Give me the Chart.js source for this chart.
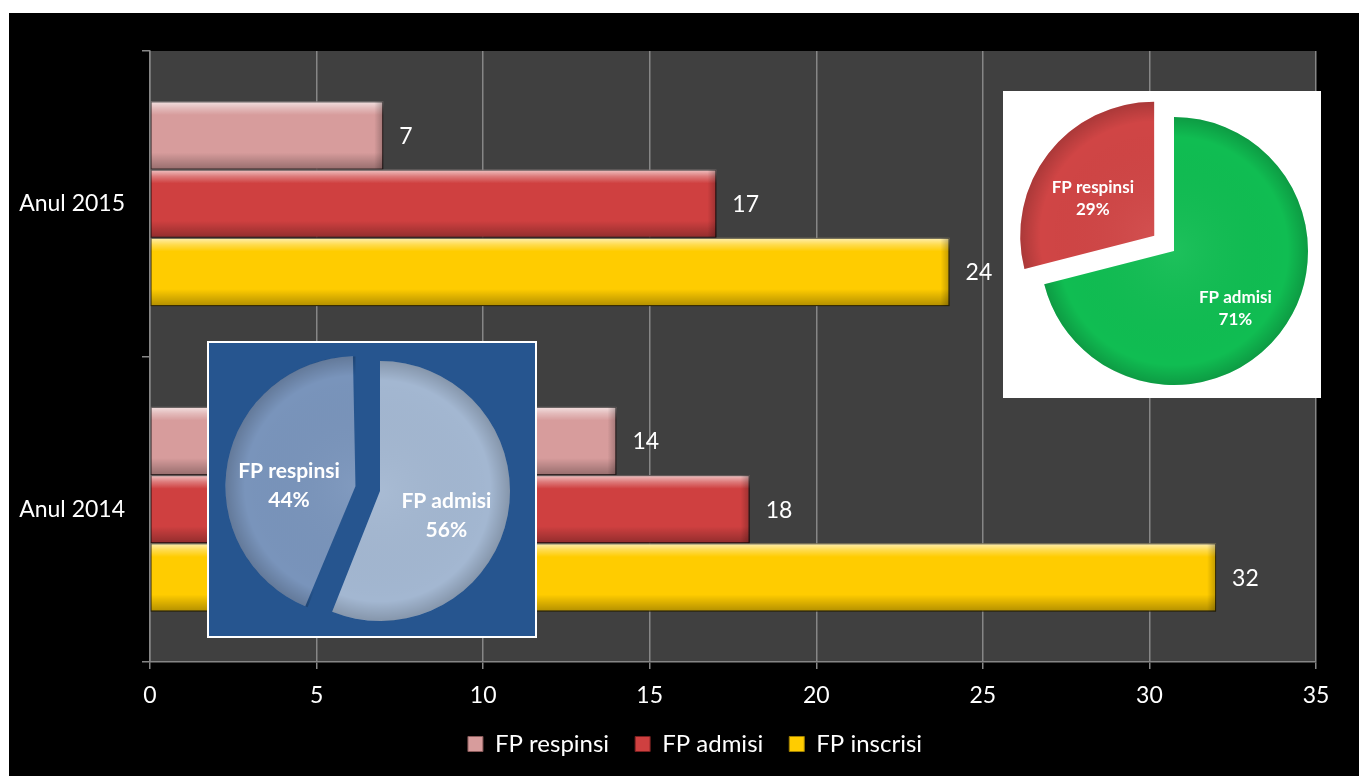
<!DOCTYPE html>
<html>
<head>
<meta charset="utf-8">
<script src="https://cdn.jsdelivr.net/npm/chart.js@4.4.1/dist/chart.umd.min.js"></script>
<style>
  html, body { margin: 0; padding: 0; background: #fff; width: 1359px; height: 776px; overflow: hidden; }
  #main { position: absolute; left: 9px; top: 13px; width: 1350px; height: 763px; background: #000; }
  #pie15 { position: absolute; left: 1003px; top: 91px; width: 318px; height: 307px; background: #fff; }
  #pie14 { position: absolute; left: 207px; top: 341px; width: 330px; height: 297px; background: #26558f; border: 2px solid #fff; box-sizing: border-box; }
</style>
</head>
<body>
<div id="main"><canvas id="barChart"></canvas></div>
<div id="pie15"><canvas id="pieChart15"></canvas></div>
<div id="pie14"><canvas id="pieChart14"></canvas></div>
<script>
// date grafic bare
const categories = ['Anul 2015', 'Anul 2014'];
const seriesNames = ['FP respinsi', 'FP admisi', 'FP inscrisi'];
const respinsi = [7, 14];
const admisi = [17, 18];
const inscrisi = [24, 32];
const xMax = 35;
const xStep = 5;

// date grafice pie
const pieLabels = ['FP admisi', 'FP respinsi'];
const pie2015 = [71, 29];
const pie2014 = [56, 44];

const mainFont = { family: 'Lato', size: 23 };
const legendFont = { family: 'Lato', size: 24 };

// fundal gri pentru zona graficului + legenda centrata ca in original
const plotBg = {
  id: 'plotBg',
  beforeDraw(chart) {
    const { ctx, chartArea: a } = chart;
    ctx.save();
    ctx.fillStyle = '#404040';
    ctx.fillRect(a.left, a.top, a.right - a.left, a.bottom - a.top);
    ctx.restore();
    const lg = chart.legend;
    if (lg) {
      const d = 686 - (lg.left + lg.right) / 2;
      lg.left += d;
      lg.right += d;
    }
  }
};

// efect 3D pe bare
const barBevel = {
  id: 'barBevel',
  afterDatasetsDraw(chart) {
    const ctx = chart.ctx;
    chart.data.datasets.forEach((ds, i) => {
      chart.getDatasetMeta(i).data.forEach(bar => {
        const { x, y, base, height } = bar.getProps(['x', 'y', 'base', 'height'], true);
        const top = y - height / 2;
        const w = x - base;
        ctx.save();
        let g = ctx.createLinearGradient(0, top, 0, top + height);
        g.addColorStop(0, 'rgba(255,255,255,0.7)');
        g.addColorStop(0.1, 'rgba(255,255,255,0.3)');
        g.addColorStop(0.2, 'rgba(255,255,255,0)');
        g.addColorStop(0.75, 'rgba(0,0,0,0)');
        g.addColorStop(1, 'rgba(0,0,0,0.3)');
        ctx.fillStyle = g;
        ctx.fillRect(base, top, w, height);
        g = ctx.createLinearGradient(x - 9, 0, x, 0);
        g.addColorStop(0, 'rgba(0,0,0,0)');
        g.addColorStop(1, 'rgba(0,0,0,0.25)');
        ctx.fillStyle = g;
        ctx.fillRect(x - 9, top, 9, height);
        ctx.strokeStyle = 'rgba(0,0,0,0.55)';
        ctx.lineWidth = 1;
        ctx.strokeRect(base + 0.5, top + 0.5, w - 1, height - 1);
        ctx.restore();
      });
    });
  }
};

// valori la capatul barelor
const barValues = {
  id: 'barValues',
  afterDatasetsDraw(chart) {
    const ctx = chart.ctx;
    ctx.save();
    ctx.fillStyle = '#fff';
    ctx.font = mainFont.size + 'px ' + mainFont.family;
    ctx.textBaseline = 'middle';
    ctx.textAlign = 'left';
    chart.data.datasets.forEach((ds, i) => {
      chart.getDatasetMeta(i).data.forEach((bar, j) => {
        ctx.fillText(ds.data[j], bar.x + 16, bar.y + 1);
      });
    });
    ctx.restore();
  }
};

new Chart(document.getElementById('barChart'), {
  type: 'bar',
  data: {
    labels: categories,
    datasets: [
      { label: seriesNames[0], data: respinsi, backgroundColor: '#d79c9c', borderColor: '#8a5a5a', borderWidth: 1 },
      { label: seriesNames[1], data: admisi, backgroundColor: '#cf4040', borderColor: '#7a2020', borderWidth: 1 },
      { label: seriesNames[2], data: inscrisi, backgroundColor: '#ffcc00', borderColor: '#a08000', borderWidth: 1 }
    ]
  },
  options: {
    indexAxis: 'y',
    responsive: true,
    maintainAspectRatio: false,
    animation: false,
    categoryPercentage: 0.67,
    barPercentage: 1.0,
    layout: { padding: { left: 0, right: 43, top: 38, bottom: 10 } },
    scales: {
      x: {
        min: 0,
        max: xMax,
        ticks: { stepSize: xStep, color: '#fff', font: mainFont, padding: 13 },
        grid: { color: '#868686', lineWidth: 1.5, tickLength: 7, tickColor: '#868686' },
        border: { color: '#868686', width: 1.5 },
        afterFit(s) { s.height = 44; }
      },
      y: {
        ticks: { color: '#fff', font: mainFont, padding: 17 },
        grid: { drawOnChartArea: false, tickLength: 8, color: '#868686', lineWidth: 1.5 },
        border: { color: '#868686', width: 1.5 },
        afterFit(s) { s.width = 141; }
      }
    },
    plugins: {
      legend: {
        position: 'bottom',
        labels: { color: '#fff', font: legendFont, boxWidth: 15, boxHeight: 15, padding: 26 }
      },
      tooltip: { enabled: false }
    }
  },
  plugins: [plotBg, barBevel, barValues]
});

// felia scoasa isi pastreaza raza (Chart.js o mareste altfel)
function arcGeom(chart, arc) {
  const p = arc.getProps(['x', 'y', 'startAngle', 'endAngle'], true);
  const r = chart.getDatasetMeta(0).controller.outerRadius;
  const mid = (p.startAngle + p.endAngle) / 2;
  const shift = (arc.options.offset || 0) / 4;
  return { cx: p.x + Math.cos(mid) * shift, cy: p.y + Math.sin(mid) * shift, r, s: p.startAngle, e: p.endAngle, mid };
}

const pieText = {
  id: 'pieText',
  beforeDatasetsDraw(chart) {
    const r = chart.getDatasetMeta(0).controller.outerRadius;
    chart.getDatasetMeta(0).data.forEach(arc => {
      const off = (arc.options.offset || 0) / 4;
      const fix = 1 - Math.sin(Math.min(Math.PI, arc.circumference || 0));
      arc.outerRadius = r - off * fix;
    });
  },
  afterDatasetsDraw(chart, args, opts) {
    const ctx = chart.ctx;
    const ds = chart.data.datasets[0];
    const total = ds.data.reduce((a, b) => a + b, 0);
    chart.getDatasetMeta(0).data.forEach((arc, i) => {
      const g = arcGeom(chart, arc);
      // umbrire
      ctx.save();
      ctx.beginPath();
      ctx.moveTo(g.cx, g.cy);
      ctx.arc(g.cx, g.cy, g.r, g.s, g.e);
      ctx.closePath();
      ctx.clip();
      const rg = ctx.createRadialGradient(g.cx, g.cy, 0, g.cx, g.cy, g.r);
      rg.addColorStop(0, 'rgba(255,255,255,0.06)');
      rg.addColorStop(0.85, 'rgba(0,0,0,0)');
      rg.addColorStop(1, 'rgba(0,0,0,0.18)');
      ctx.fillStyle = rg;
      ctx.fillRect(g.cx - g.r, g.cy - g.r, g.r * 2, g.r * 2);
      ctx.restore();
      // text
      const d = g.r * opts.dist;
      const tx = g.cx + Math.cos(g.mid) * d;
      const ty = g.cy + Math.sin(g.mid) * d + opts.dy;
      ctx.save();
      ctx.fillStyle = '#fff';
      ctx.font = 'bold ' + opts.size + 'px Lato';
      ctx.textAlign = 'center';
      ctx.textBaseline = 'middle';
      ctx.fillText(chart.data.labels[i], tx, ty - opts.gap / 2);
      ctx.fillText(Math.round(ds.data[i] / total * 100) + '%', tx, ty + opts.gap / 2);
      ctx.restore();
    });
  }
};

function makePie(id, values, colors, offsets, radius, padding, textOpts) {
  return new Chart(document.getElementById(id), {
    type: 'pie',
    data: {
      labels: pieLabels,
      datasets: [{ data: values, backgroundColor: colors, borderWidth: 0, offset: offsets }]
    },
    options: {
      responsive: true,
      maintainAspectRatio: false,
      animation: false,
      radius: radius,
      layout: { padding: padding },
      plugins: {
        legend: { display: false },
        tooltip: { enabled: false },
        pieText: textOpts
      }
    },
    plugins: [pieText]
  });
}

makePie('pieChart15', pie2015, ['#10bd52', '#d04545'], [0, 100], 134,
  { left: 24, top: 13 }, { dist: 0.58, size: 17, gap: 22, dy: 10 });
makePie('pieChart14', pie2014, ['#a3b7d1', '#7994bb'], [0, 100], 130,
  { left: 16, top: 3 }, { dist: 0.52, size: 21, gap: 29, dy: 12 });
</script>
</body>
</html>
